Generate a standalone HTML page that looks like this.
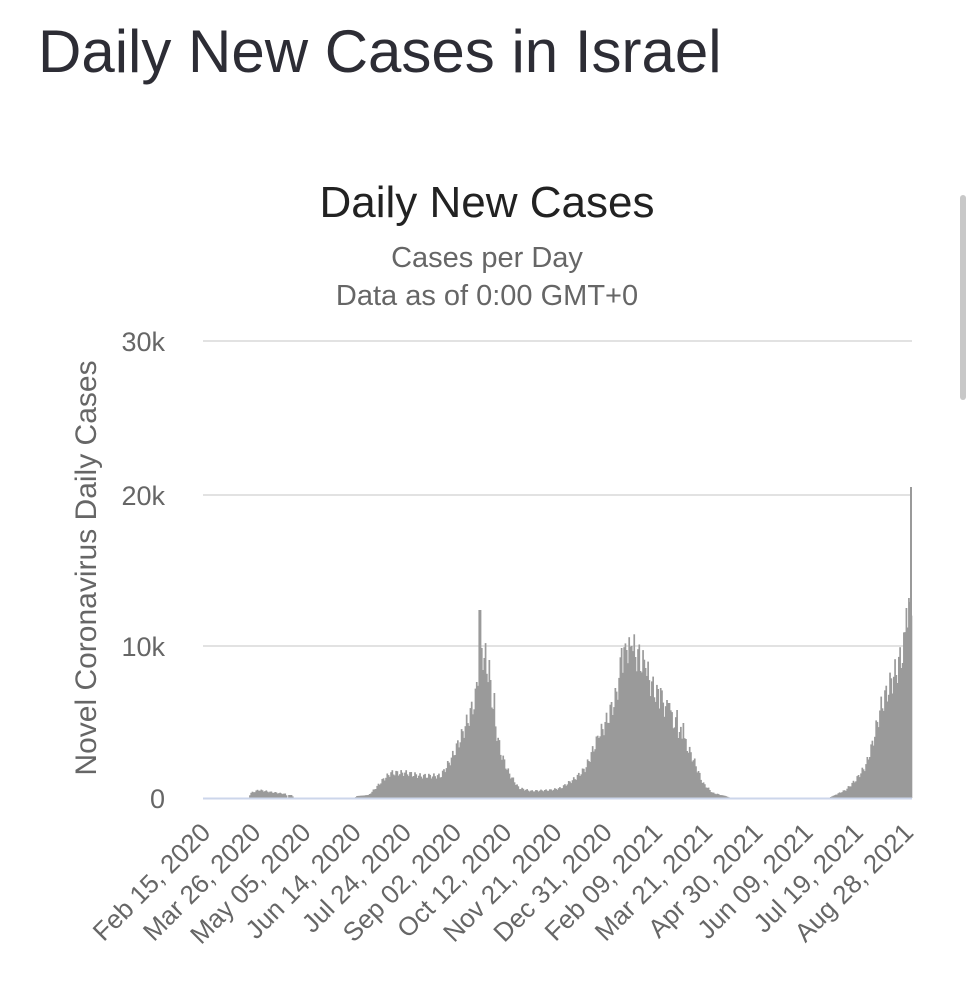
<!DOCTYPE html>
<html><head><style>
body{margin:0;background:#fff;width:975px;height:1000px;overflow:hidden;font-family:"Liberation Sans",sans-serif;}
</style></head><body>
<svg width="975" height="1000" xmlns="http://www.w3.org/2000/svg" font-family="Liberation Sans, sans-serif">
<text x="38" y="72" font-size="60" fill="#2d2d35">Daily New Cases in Israel</text>
<text x="487" y="217" font-size="44" fill="#222" text-anchor="middle">Daily New Cases</text>
<text x="487" y="267" font-size="29" fill="#666" text-anchor="middle">Cases per Day</text>
<text x="487" y="305" font-size="29" fill="#666" text-anchor="middle">Data as of 0:00 GMT+0</text>
<rect x="960" y="195" width="6" height="205" rx="3" fill="#c8c8c8"/>
<g stroke="#e2e2e2" stroke-width="2">
<line x1="203" y1="341" x2="912" y2="341"/>
<line x1="203" y1="495" x2="912" y2="495"/>
<line x1="203" y1="646" x2="912" y2="646"/>
</g>
<g font-size="27" fill="#666" text-anchor="end">
<text x="165" y="351">30k</text>
<text x="165" y="505">20k</text>
<text x="165" y="656">10k</text>
<text x="165" y="808">0</text>
</g>
<text transform="translate(96,568) rotate(-90)" font-size="30" fill="#666" text-anchor="middle">Novel Coronavirus Daily Cases</text>
<g id="bars" fill="#9a9a9a"></g>
<line x1="203" y1="798.5" x2="912" y2="798.5" stroke="#ccd6eb" stroke-width="2"/>
<g id="xl" font-size="26" fill="#666" text-anchor="end"></g>
</svg>
<script>
var k=[[205,0],[248,0],[250,5],[258,8],[270,6],[285,4],[287,0],[288,3],[291,3],[293,0],[354,0],[356,2],[368,3],[375,10],[382,18],[390,25],[405,25],[420,22],[440,22],[450,38],[460,60],[468,80],[475,100],[479,150],[485,140],[490,110],[495,70],[500,45],[508,25],[518,10],[530,7],[550,8],[560,10],[575,20],[585,30],[595,55],[605,75],[615,100],[622,140],[632,148],[642,135],[652,110],[662,95],[672,78],[682,60],[692,40],[702,15],[712,5],[725,2],[730,0],[828,0],[832,2],[845,8],[855,18],[865,32],[872,55],[880,90],[890,115],[897,130],[903,150],[907,175],[910,205],[912,210]];
var spikes={479:188,481:150,484:140,488:138,493:105,598:60,615:110,621:150,626:148,631:152,645:130,660:110,668:95,676:88,683:75,905:190,908:200};
function h(x){for(var i=1;i<k.length;i++){if(x<=k[i][0]){var a=k[i-1],b=k[i];return a[1]+(b[1]-a[1])*(x-a[0])/(b[0]-a[0]);}}return 0;}
var s='',n=0;
for(var x=205;x<911;x+=1.26){n++;var v=h(x);if(v>3)v*=1+0.12*Math.sin(n*1.7);
for(var sx in spikes){if(Math.abs(x-sx)<0.7)v=spikes[sx];}
if(v>0.5)s+='<rect x="'+x.toFixed(2)+'" y="'+(798-v).toFixed(1)+'" width="1.7" height="'+v.toFixed(1)+'"/>';}
s+='<rect x="910" y="487" width="2" height="311"/>';
document.getElementById('bars').innerHTML=s;
var L=["Feb 15, 2020","Mar 26, 2020","May 05, 2020","Jun 14, 2020","Jul 24, 2020","Sep 02, 2020","Oct 12, 2020","Nov 21, 2020","Dec 31, 2020","Feb 09, 2021","Mar 21, 2021","Apr 30, 2021","Jun 09, 2021","Jul 19, 2021","Aug 28, 2021"];
var t='';for(var i=0;i<L.length;i++){var px=212+i*50.2;t+='<text transform="translate('+px+',834) rotate(-45)">'+L[i]+'</text>';}
document.getElementById('xl').innerHTML=t;
</script>
</body></html>
